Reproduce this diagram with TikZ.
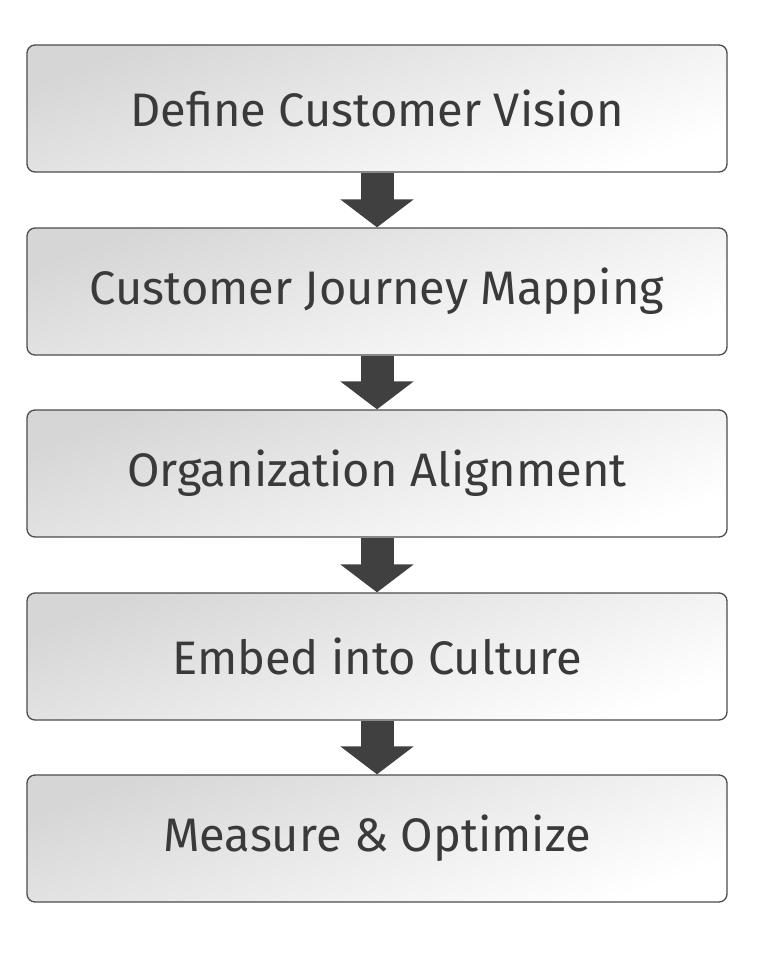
\documentclass[tikz,border=0pt]{standalone}
\usepackage{fontspec}
\setmainfont{Fira Sans}
\usetikzlibrary{arrows.meta}
\definecolor{txtgray}{HTML}{3A3A3A}
\definecolor{arrgray}{HTML}{404040}
\begin{document}
\begin{tikzpicture}[x=1pt, y=-1pt,
    stage/.style={draw=black!70, line width=1.3pt, rounded corners=8pt,
        minimum width=700pt, minimum height=127pt,
        top color=black!16, bottom color=white, shading angle=20,
        text=txtgray, font=\fontsize{47}{56}\selectfont},
    flow/.style={draw=arrgray, line width=33pt,
        -{Triangle[length=28pt, width=72pt]}}
]
    \useasboundingbox (0,0) rectangle (756,954);
    % Stages
    \node[stage] (s1) at (377,108.5) {Define Customer Vision};
    \node[stage] (s2) at (377,291.5) {Customer Journey Mapping};
    \node[stage] (s3) at (377,473.5) {Organization Alignment};
    \node[stage] (s4) at (377,656.5) {Embed into Culture};
    \node[stage] (s5) at (377,838.5) {Measure \& Optimize};

    % Arrows
    \foreach \a/\b in {s1/s2, s2/s3, s3/s4, s4/s5} {
        \draw[flow] (\a.south) -- (\b.north);
    }
\end{tikzpicture}
\end{document}
